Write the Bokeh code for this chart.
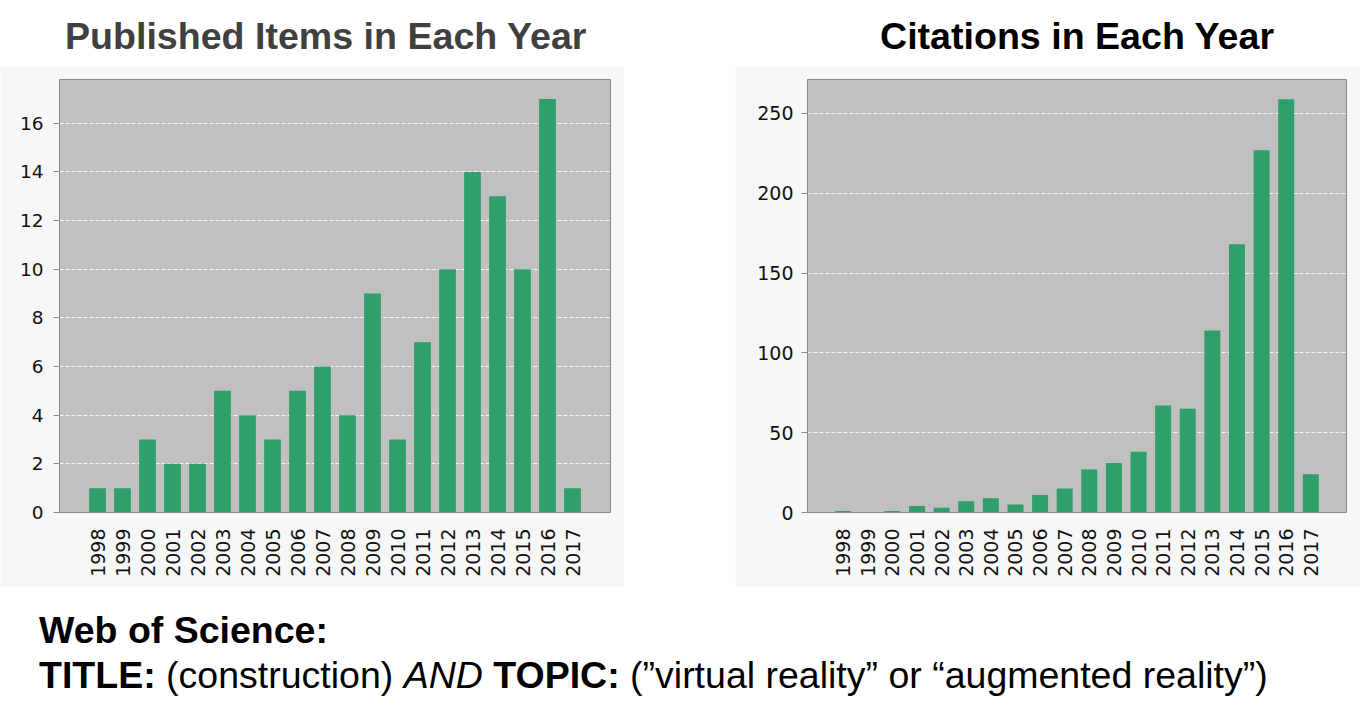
import math
from bokeh.plotting import figure
from bokeh.models import FactorRange, Range1d, FixedTicker, Div, Spacer
from bokeh.layouts import row, column
from bokeh.embed import file_html
from bokeh.resources import INLINE

# ---------------- data ----------------
years = ["1998", "1999", "2000", "2001", "2002", "2003", "2004", "2005", "2006", "2007",
         "2008", "2009", "2010", "2011", "2012", "2013", "2014", "2015", "2016", "2017"]
published = [1, 1, 3, 2, 2, 5, 4, 3, 5, 6, 4, 9, 3, 7, 10, 14, 13, 10, 17, 1]
citations = [1, 0, 1, 4, 3, 7, 9, 5, 11, 15, 27, 31, 38, 67, 65, 114, 168, 227, 259, 24]
published_ticks = [0, 2, 4, 6, 8, 10, 12, 14, 16]
citation_ticks = [0, 50, 100, 150, 200, 250]

title_left = "Published Items in Each Year"
title_right = "Citations in Each Year"

BAR = "#2f9f6b"
PLOT_BG = "#c0c0c0"
PANEL_BG = "#f7f7f7"
EDGE = "#8a8a8a"


def make_chart(values, ticks, y_end, pad, bar_w, fw, mb_left, mb_right, ylab_size, ystand):
    p = figure(
        x_range=FactorRange(factors=years, range_padding=pad, range_padding_units="absolute"),
        y_range=Range1d(0, y_end),
        frame_width=fw, frame_height=433,
        min_border_left=mb_left, min_border_right=mb_right,
        min_border_top=13, min_border_bottom=75,
        output_backend="svg", toolbar_location=None,
        background_fill_color=PLOT_BG, border_fill_color=PANEL_BG,
        outline_line_color=EDGE, outline_line_width=1,
    )
    p.vbar(x=years, top=values, width=bar_w, fill_color=BAR, line_color=None)
    p.xgrid.visible = False
    p.ygrid.grid_line_color = "white"
    p.ygrid.grid_line_dash = "4 2"
    p.ygrid.grid_line_alpha = 0.85
    p.ygrid.grid_line_width = 1

    p.yaxis.ticker = FixedTicker(ticks=ticks)
    p.yaxis.minor_tick_line_color = None
    p.yaxis.major_tick_out = 6
    p.yaxis.major_tick_in = 0
    p.yaxis.major_tick_line_color = EDGE
    p.yaxis.axis_line_color = EDGE
    p.yaxis.major_label_standoff = ystand
    p.yaxis.major_label_text_font = "DejaVu Sans"
    p.yaxis.major_label_text_font_size = ylab_size
    p.yaxis.major_label_text_color = "#111111"

    p.xaxis.major_tick_line_color = None
    p.xaxis.minor_tick_line_color = None
    p.xaxis.axis_line_color = EDGE
    p.xaxis.major_label_orientation = math.pi / 2
    p.xaxis.major_label_standoff = 10
    p.xaxis.major_label_text_font = "DejaVu Sans"
    p.xaxis.major_label_text_font_size = "19px"
    p.xaxis.major_label_text_color = "#111111"
    return p


p1 = make_chart(published, published_ticks, 17.8, 1.02, 0.67, 551, 59, 14, "18.5px", 10)
p2 = make_chart(citations, citation_ticks, 271.3, 0.95, 0.65, 539, 72, 14, "19px", 8)

FONT = "font-family:'Liberation Sans',Arial,sans-serif;"

t1 = Div(text=(f'<div style="{FONT}font-weight:bold;font-size:37.6px;line-height:41px;'
               f'color:#404040;padding-left:65px;padding-top:16px;white-space:nowrap">{title_left}</div>'),
         width=735, height=66, margin=0)
t2 = Div(text=(f'<div style="{FONT}font-weight:bold;font-size:37.6px;line-height:41px;'
               f'color:#000000;padding-left:145px;padding-top:16px;white-space:nowrap">{title_right}</div>'),
         width=625, height=66, margin=0)

bottom = Div(text=(f'<div style="{FONT}font-size:37.5px;line-height:45px;color:#000;'
                   f'padding-left:39px;padding-top:21px;white-space:nowrap">'
                   '<b>Web of Science:</b><br>'
                   '<b>TITLE:</b> (construction) <i>AND</i> <b>TOPIC:</b> '
                   '(\u201dvirtual reality\u201d or \u201caugmented reality\u201d)</div>'),
             width=1360, height=134, margin=0)

gap = Spacer(width=111, height=521, margin=0)

layout = column(row(t1, t2, spacing=0), row(p1, gap, p2, spacing=0), bottom, spacing=0)

open("out.html", "w").write(file_html(layout, INLINE))
